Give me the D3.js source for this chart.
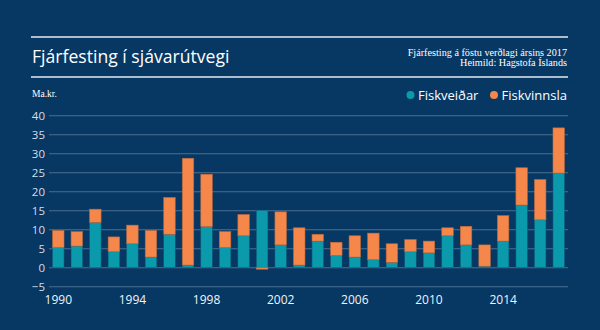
<!DOCTYPE html>
<html><head><meta charset="utf-8">
<script src="https://cdn.jsdelivr.net/npm/d3@7"></script>
<style>
html,body{margin:0;padding:0;background:#073763;}
svg{display:block;}
</style></head>
<body>
<script>
const years = [1990,1991,1992,1993,1994,1995,1996,1997,1998,1999,2000,2001,2002,2003,2004,2005,2006,2007,2008,2009,2010,2011,2012,2013,2014,2015,2016,2017];
const fiskveidar = [5.3,5.7,11.9,4.2,6.3,2.8,8.8,0.7,10.8,5.3,8.4,15.1,6.0,0.7,7.0,3.2,2.8,2.1,1.4,4.2,3.9,8.4,6.0,0.4,7.0,16.5,12.6,24.9];
const fiskvinnsla = [4.5,3.8,3.5,3.9,4.9,7.0,9.7,28.1,13.8,4.2,5.6,-0.4,8.7,9.8,1.8,3.5,5.6,7.0,4.9,3.2,3.1,2.1,4.9,5.6,6.7,9.8,10.6,11.9];
const yTicks = [-5,0,5,10,15,20,25,30,35,40];
const xTickYears = [1990,1994,1998,2002,2006,2010,2014];
const seriesNames = ["Fiskveiðar","Fiskvinnsla"];
const colors = ["#0a9aab","#f5874a"];

const W=600,H=330;
const svg=d3.select("body").append("svg").attr("width",W).attr("height",H);
svg.append("rect").attr("width",W).attr("height",H).attr("fill","#073763");

// header rules
svg.append("line").attr("x1",31).attr("x2",568).attr("y1",37).attr("y2",37).attr("stroke","#e6edf3").attr("stroke-width",1.6);
svg.append("line").attr("x1",31).attr("x2",568).attr("y1",77).attr("y2",77).attr("stroke","#e6edf3").attr("stroke-width",1.6);

svg.append("text").attr("x",32).attr("y",62.5).text("Fjárfesting í sjávarútvegi")
  .attr("fill","#ffffff").attr("font-family","Open Sans").attr("font-weight",500)
  .attr("font-size",17.6);

const sub=svg.append("g").attr("font-family","Liberation Serif").attr("font-size",10.2).attr("fill","#ffffff").attr("text-anchor","end");
sub.append("text").attr("x",567).attr("y",56).text("Fjárfesting á föstu verðlagi ársins 2017");
sub.append("text").attr("x",567).attr("y",66).text("Heimild: Hagstofa Íslands");

svg.append("text").attr("x",32).attr("y",97).text("Ma.kr.").attr("fill","#ffffff")
  .attr("font-family","Liberation Serif").attr("font-size",9.5);

// legend
const leg=svg.append("g").attr("font-family","Open Sans").attr("font-weight",500).attr("font-size",13).attr("fill","#ffffff");
const legItems=[{x:410.5,tx:418},{x:494,tx:501.5}];
seriesNames.forEach((n,i)=>{
  leg.append("circle").attr("cx",legItems[i].x).attr("cy",95).attr("r",4).attr("fill",colors[i]);
  leg.append("text").attr("x",legItems[i].tx).attr("y",99.5).text(n);
});

// scales
const x=d3.scaleBand().domain(years).range([49,568]).paddingInner(0.38).paddingOuter(0.19);
const y=d3.scaleLinear().domain([-5,40]).range([286.7,115.7]);

// grid
svg.append("g").selectAll("line").data(yTicks).join("line")
  .attr("x1",49).attr("x2",568).attr("y1",d=>y(d)).attr("y2",d=>y(d))
  .attr("stroke","#4d7090").attr("stroke-width",1.1);

const yAxis=svg.append("g").attr("transform","translate(49,0)")
  .call(d3.axisLeft(y).tickValues(yTicks).tickSize(0).tickPadding(4));
yAxis.select(".domain").remove();
yAxis.selectAll("text").attr("fill","#d5dee8").attr("font-family","Open Sans").attr("font-size",11.5);

const xAxis=svg.append("g").attr("transform","translate(0,292)")
  .call(d3.axisBottom(x).tickValues(xTickYears).tickSize(0).tickPadding(3));
xAxis.select(".domain").remove();
xAxis.selectAll("text").attr("fill","#f0f4f8").attr("font-family","Open Sans").attr("font-size",12);

// bars
const data=years.map((yr,i)=>({year:yr,a:fiskveidar[i],b:fiskvinnsla[i]}));
const g=svg.append("g");
data.forEach(d=>{
  g.append("rect").attr("x",x(d.year)).attr("width",x.bandwidth())
   .attr("y",y(Math.max(0,d.a))).attr("height",Math.abs(y(d.a)-y(0)))
   .attr("fill",colors[0]).attr("stroke","#0a5f7a").attr("stroke-width",0.5);
  let y0,y1;
  if(d.b>=0){y0=d.a;y1=d.a+d.b;} else {y0=d.b;y1=0;}
  g.append("rect").attr("x",x(d.year)).attr("width",x.bandwidth())
   .attr("y",y(y1)).attr("height",Math.abs(y(y1)-y(y0)))
   .attr("fill",colors[1]).attr("stroke","#b8693e").attr("stroke-width",0.6);
});
</script>
</body></html>
